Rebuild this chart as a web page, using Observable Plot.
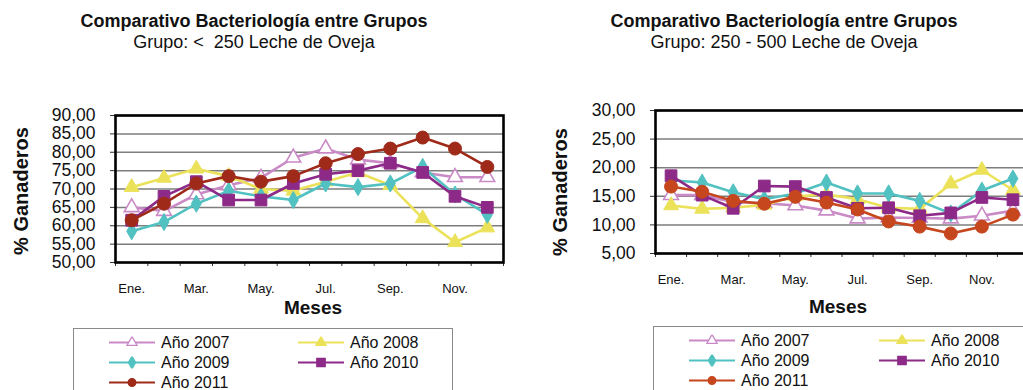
<!DOCTYPE html>
<html>
<head>
<meta charset="utf-8">
<script src="https://cdn.jsdelivr.net/npm/d3@7"></script>
<script src="https://cdn.jsdelivr.net/npm/@observablehq/plot@0.6"></script>
<style>
  body { margin: 0; background: #fff; font-family: "Liberation Sans", Arial, sans-serif; color: #111; }
  #page { position: relative; width: 1023px; height: 390px; overflow: hidden; background: #fff; }
  .chart { position: absolute; top: 0; }
  .title { position: absolute; top: 11px; width: 420px; text-align: center; font-size: 18px; line-height: 21px; white-space: pre; }
  .title b { display: block; }
  .title span { display: block; }
  .ylab { position: absolute; font-weight: bold; font-size: 20px; white-space: nowrap; transform: translate(-50%, -50%) rotate(-90deg); }
  .xlab { position: absolute; font-weight: bold; font-size: 19px; transform: translate(-50%, -50%); }
  .legend { position: absolute; border: 1px solid #8a8a8a; background: #fff; }
  .item { position: absolute; display: flex; align-items: center; font-size: 16px; line-height: 17px; white-space: nowrap; transform: translateY(-50%); }
  .item svg { margin-right: 6px; }
</style>
</head>
<body>
<div id="page"></div>
<script>
// Monthly share of farms (%) per year, two sheep-milk groups
const months = ["Ene.", "Feb.", "Mar.", "Abr.", "May.", "Jun.", "Jul.", "Ago.", "Sep.", "Oct.", "Nov.", "Dic."];
const years = ["Año 2007", "Año 2008", "Año 2009", "Año 2010", "Año 2011"];

// Grupo: < 250
const low2007 = [65.0, 64.0, 68.5, 71.0, 73.0, 78.5, 81.0, 78.0, 77.0, 74.5, 73.2, 73.2];
const low2008 = [70.5, 73.0, 75.5, 73.5, 70.0, 69.5, 72.0, 74.5, 71.0, 62.0, 55.5, 59.5];
const low2009 = [58.5, 61.0, 66.0, 69.5, 68.0, 67.0, 71.5, 70.5, 71.5, 76.0, 68.5, 63.0];
const low2010 = [61.5, 68.0, 72.0, 67.0, 67.0, 71.5, 74.0, 75.0, 77.0, 74.5, 68.0, 65.0];
const low2011 = [61.5, 66.0, 71.5, 73.5, 72.0, 73.5, 77.0, 79.5, 81.0, 84.0, 81.0, 76.0];
const lowTicks = [50, 55, 60, 65, 70, 75, 80, 85, 90];

// Grupo: 250 - 500
const mid2007 = [15.2, 15.2, 14.0, 13.8, 13.4, 12.5, 11.1, 11.3, 11.2, 11.1, 11.6, 12.5];
const mid2008 = [13.4, 12.8, 13.0, 13.5, 15.0, 15.3, 14.5, 13.0, 12.8, 17.2, 19.6, 16.1];
const mid2009 = [17.8, 17.4, 15.7, 14.5, 15.5, 17.4, 15.5, 15.5, 14.2, 12.0, 16.0, 18.1];
const mid2010 = [18.6, 15.2, 12.9, 16.8, 16.7, 14.8, 12.9, 13.0, 11.6, 12.1, 14.8, 14.4];
const mid2011 = [16.7, 15.8, 14.2, 13.7, 14.9, 13.9, 12.7, 10.6, 9.7, 8.5, 9.7, 11.8];
const midTicks = [5, 10, 15, 20, 25, 30];

const page = document.getElementById("page");
const fontFamily = "'Liberation Sans', Arial, sans-serif";
const fmt = d => d.toFixed(2).replace(".", ",");

// marker style per series: symbol, size, hollow or filled
const symbols = [
  {symbol: "triangle", r: 5.5, hollow: true},
  {symbol: "triangle", r: 5.5, hollow: false},
  {symbol: "diamond", r: 5.2, hollow: false},
  {symbol: "square", r: 6.6, hollow: false},
  {symbol: "circle", r: 6.5, hollow: false}
];

function lineChart({series, ticks, colors, width, height, margins}) {
  const marks = [
    Plot.gridY(ticks, {stroke: "#7d7d7d", strokeOpacity: 1, strokeWidth: 1.5}),
    Plot.axisY(ticks, {tickFormat: fmt, tickSize: 5, tickPadding: 15, fontSize: 17.5, label: null, stroke: "#333"}),
    Plot.axisX(d3.range(13).map(i => i - 0.5), {tickSize: 4, tickFormat: () => "", label: null, stroke: "#333"}),
    Plot.axisX(d3.range(0, 12, 2), {tickSize: 0, tickPadding: 21, tickFormat: i => months[i], fontSize: 13, label: null})
  ];
  series.forEach((values, s) => {
    const rows = values.map((v, i) => ({year: years[s], month: i, value: v}));
    const sym = symbols[s];
    marks.push(Plot.line(rows, {x: "month", y: "value", stroke: colors[s], strokeWidth: 2.6}));
    marks.push(Plot.dot(rows, {
      x: "month", y: "value", symbol: sym.symbol, r: sym.r,
      fill: sym.hollow ? "#fff" : colors[s],
      stroke: colors[s], strokeWidth: sym.hollow ? 1.6 : 1
    }));
  });
  marks.push(Plot.frame({stroke: "#000", strokeWidth: 2.6}));
  return Plot.plot({
    width, height,
    marginLeft: margins[0], marginTop: margins[1], marginRight: margins[2], marginBottom: margins[3],
    x: {type: "linear", domain: [-0.5, 11.5]},
    y: {domain: [ticks[0], ticks[ticks.length - 1]]},
    style: {fontFamily, color: "#111", background: "transparent", overflow: "visible"},
    marks
  });
}

function swatch(color, sym) {
  const ns = "http://www.w3.org/2000/svg";
  const svg = document.createElementNS(ns, "svg");
  svg.setAttribute("width", 46);
  svg.setAttribute("height", 12);
  const line = document.createElementNS(ns, "line");
  line.setAttribute("x1", 0); line.setAttribute("x2", 46);
  line.setAttribute("y1", 6); line.setAttribute("y2", 6);
  line.setAttribute("stroke", color); line.setAttribute("stroke-width", 2.2);
  svg.appendChild(line);
  const p = document.createElementNS(ns, "path");
  const type = {triangle: d3.symbolTriangle, diamond: d3.symbolDiamond, square: d3.symbolSquare, circle: d3.symbolCircle}[sym.symbol];
  p.setAttribute("d", d3.symbol(type, sym.symbol === "square" ? 70 : 45)());
  p.setAttribute("transform", "translate(23,6)");
  p.setAttribute("fill", sym.hollow ? "#fff" : color);
  p.setAttribute("stroke", color);
  p.setAttribute("stroke-width", 1.3);
  svg.appendChild(p);
  return svg;
}

function panel({left, series, ticks, colors, svgWidth, margins, title, subtitle, titleX, ylabX, ylabY, xlabX, xlabY, legend}) {
  const svg = lineChart({series, ticks, colors, width: svgWidth, height: 300, margins});
  svg.classList.add("chart");
  svg.style.left = left + "px";
  page.appendChild(svg);

  const t = document.createElement("div");
  t.className = "title";
  t.style.left = (titleX - 210) + "px";
  t.innerHTML = `<b></b><span></span>`;
  t.querySelector("b").textContent = title;
  t.querySelector("span").textContent = subtitle;
  page.appendChild(t);

  const yl = document.createElement("div");
  yl.className = "ylab";
  yl.style.left = ylabX + "px";
  yl.style.top = ylabY + "px";
  yl.textContent = "% Ganaderos";
  page.appendChild(yl);

  const xl = document.createElement("div");
  xl.className = "xlab";
  xl.style.left = xlabX + "px";
  xl.style.top = xlabY + "px";
  xl.textContent = "Meses";
  page.appendChild(xl);

  const box = document.createElement("div");
  box.className = "legend";
  box.style.left = legend.x + "px";
  box.style.top = legend.y + "px";
  box.style.width = legend.w + "px";
  box.style.height = "90px";
  page.appendChild(box);
  years.forEach((yr, s) => {
    const it = document.createElement("div");
    it.className = "item";
    it.style.left = (s % 2 === 0 ? legend.col1 : legend.col2) - legend.x + "px";
    it.style.top = (13 + Math.floor(s / 2) * 20) + "px";
    it.appendChild(swatch(colors[s], symbols[s]));
    const label = document.createElement("span");
    label.textContent = yr;
    it.appendChild(label);
    box.appendChild(it);
  });
}

panel({
  left: 0, series: [low2007, low2008, low2009, low2010, low2011], ticks: lowTicks,
  colors: ["#c98ac6", "#ebe25a", "#52c1c1", "#8d2a88", "#9f2a19"],
  svgWidth: 520, margins: [115, 115, 17, 38],
  title: "Comparativo Bacteriología entre Grupos", subtitle: "Grupo: <  250 Leche de Oveja",
  titleX: 254, ylabX: 21, ylabY: 191, xlabX: 313, xlabY: 308,
  legend: {x: 73, y: 328, w: 378, col1: 108, col2: 297}
});

panel({
  left: 540, series: [mid2007, mid2008, mid2009, mid2010, mid2011], ticks: midTicks,
  colors: ["#c98ac6", "#ebe25a", "#52c1c1", "#8d2a88", "#c6461d"],
  svgWidth: 500, margins: [115, 110, 12, 47],
  title: "Comparativo Bacteriología entre Grupos", subtitle: "Grupo: 250 - 500 Leche de Oveja",
  titleX: 784, ylabX: 560, ylabY: 192, xlabX: 838, xlabY: 307,
  legend: {x: 653, y: 326, w: 420, col1: 688, col2: 878}
});
</script>
</body>
</html>
